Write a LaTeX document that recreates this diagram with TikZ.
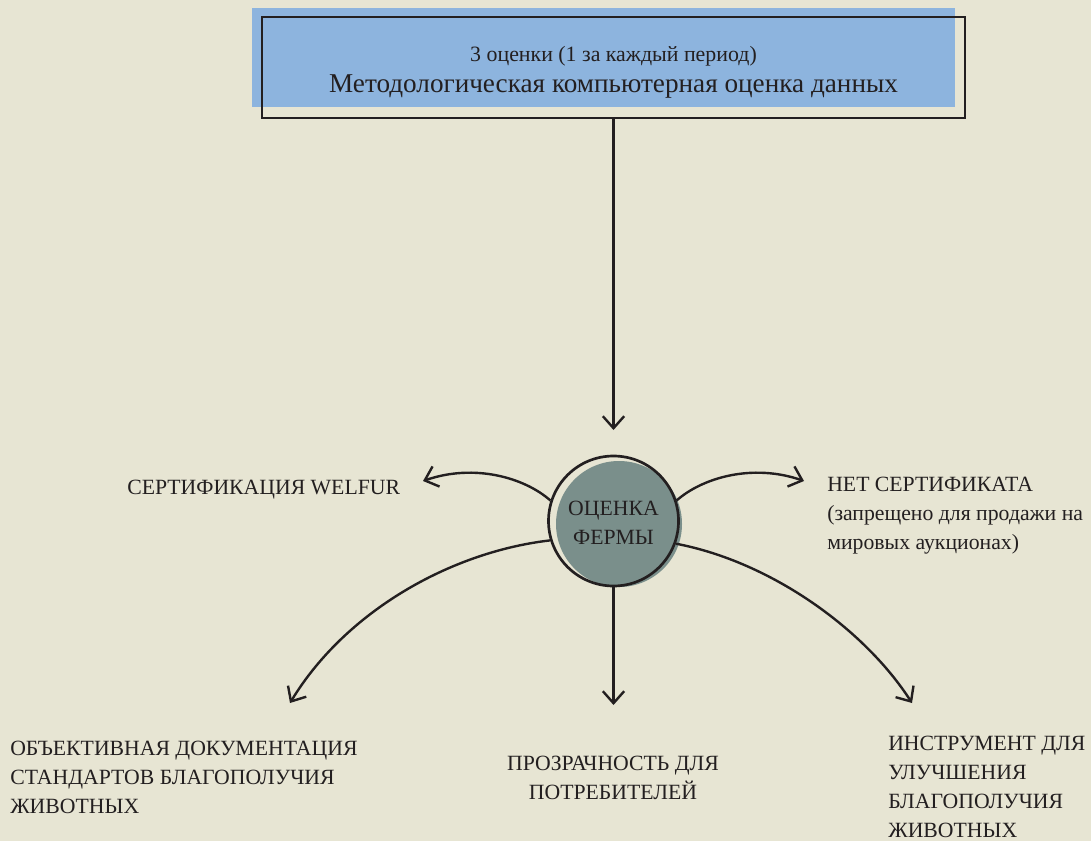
\documentclass[tikz,border=0pt]{standalone}
\usepackage{fontspec}
\setmainfont{Liberation Serif}
\usetikzlibrary{arrows.meta}
\definecolor{bgc}{RGB}{231,229,211}
\definecolor{bluec}{RGB}{141,180,222}
\definecolor{farmc}{RGB}{122,143,139}
\definecolor{inkc}{RGB}{35,31,32}
\tikzset{
  conn/.style={draw=inkc, line width=1.8pt, -{Straight Barb[length=9pt,width=16pt,line width=1.8pt]}},
  lbl/.style={text=inkc, inner sep=0pt, font=\fontsize{16.3}{21.75}\selectfont},
}
\begin{document}
\begin{tikzpicture}[x=0.75pt,y=-0.75pt]
\fill[bgc] (0,0) rectangle (1091,841);
\useasboundingbox (0,0) rectangle (1091,841);
% top box
\fill[bluec] (252,8) rectangle (955,107);
\node[draw=inkc, line width=2pt, minimum width=703*0.75pt, minimum height=101*0.75pt, inner sep=0pt] (top) at (613.5,67.5) {};
\node[lbl, anchor=base, font=\fontsize{16.4}{18}\selectfont] (t1) at (613.5,62) {3 оценки (1 за каждый период)};
\node[lbl, anchor=base, font=\fontsize{20.4}{24}\selectfont] (t2) at (613.5,93) {Методологическая компьютерная оценка данных};
% farm circle
\fill[farmc] (619,524) circle[radius=63*0.75pt];
\node[circle, draw=inkc, line width=2pt, minimum size=130*0.75pt, inner sep=0pt] (farm) at (613.5,521) {};
\node[lbl, align=center, anchor=base] (farmtxt) at (613.5,544) {ОЦЕНКА\\ФЕРМЫ};
% labels (base anchor = last line baseline)
\node[lbl, anchor=base west] (welfur) at (127,494) {СЕРТИФИКАЦИЯ WELFUR};
\node[lbl, anchor=base west, align=left] (nocert) at (827,549) {НЕТ СЕРТИФИКАТА\\(запрещено для продажи на\\мировых аукционах)};
\node[lbl, anchor=base west, align=left] (doc) at (10,813) {ОБЪЕКТИВНАЯ ДОКУМЕНТАЦИЯ\\СТАНДАРТОВ БЛАГОПОЛУЧИЯ\\ЖИВОТНЫХ};
\node[lbl, anchor=base, align=center] (transp) at (613,799) {ПРОЗРАЧНОСТЬ ДЛЯ\\ПОТРЕБИТЕЛЕЙ};
\node[lbl, anchor=base west, align=left] (tool) at (888,837) {ИНСТРУМЕНТ ДЛЯ\\УЛУЧШЕНИЯ\\БЛАГОПОЛУЧИЯ\\ЖИВОТНЫХ};
% arrow tips
\coordinate (tipTop) at (613.5,430);
\coordinate (tipL) at (423,481);
\coordinate (tipR) at (804,481);
\coordinate (tipBL) at (290,703);
\coordinate (tipBM) at (613.5,705);
\coordinate (tipBR) at (912,703);
% connectors
\draw[conn] (top.south) -- (tipTop);
\draw[conn] (farm.162) .. controls (525,478) and (475,463) .. (tipL);
\draw[conn] (farm.18) .. controls (702,478) and (752,463) .. (tipR);
\draw[conn] (farm.south) -- (tipBM);
\draw[conn] (farm.197) .. controls (450,552) and (345,612) .. (tipBL);
\draw[conn] (farm.340) .. controls (772,562) and (865,630) .. (tipBR);
\end{tikzpicture}
\end{document}
